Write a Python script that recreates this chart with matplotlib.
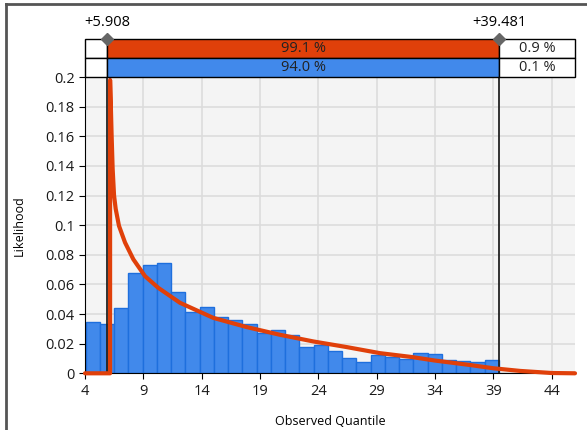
import numpy as np
import matplotlib
matplotlib.use('Agg')
from matplotlib import pyplot as plt
from matplotlib.lines import Line2D

plt.rcParams['font.family'] = ['Open Sans', 'DejaVu Sans']

## histogram (29 equal bins)
bin_lo, bin_hi = 4.05, 39.481
hist_heights = [0.0346, 0.033, 0.0444, 0.068, 0.0729, 0.0745, 0.055, 0.0414, 0.0446,
                0.038, 0.0357, 0.033, 0.0272, 0.0292, 0.0258, 0.0179, 0.019, 0.0151,
                0.0104, 0.0077, 0.0122, 0.0109, 0.0095, 0.0136, 0.0127, 0.009, 0.0081,
                0.0077, 0.0088]

## fitted density
curve_x = [4.0, 6.15, 6.15, 6.2, 6.28, 6.37, 6.49, 6.63, 6.91, 7.43, 8.14, 9.14, 10.28,
           12.14, 15.0, 17.86, 20.71, 23.57, 26.43, 29.28, 32.0, 34.0, 37.0, 39.0,
           41.3, 44.0, 46.0]
curve_y = [0.0, 0.0, 0.198, 0.185, 0.161, 0.138, 0.12, 0.111, 0.0996, 0.0883, 0.077,
           0.0656, 0.0577, 0.0476, 0.0374, 0.0312, 0.026, 0.0215, 0.0177, 0.0136,
           0.0110, 0.0086, 0.0056, 0.0034, 0.0016, 0.0002, 0.0]

## split markers and band percentages
split_lo, split_hi = 5.908, 39.481
red_pct = ['', '99.1 %', '0.9 %']
blue_pct = ['', '94.0 %', '0.1 %']

x_ticks = [4, 9, 14, 19, 24, 29, 34, 39, 44]
y_ticks = [0, 0.02, 0.04, 0.06, 0.08, 0.1, 0.12, 0.14, 0.16, 0.18, 0.2]
y_labels = ['0', '0.02', '0.04', '0.06', '0.08', '0.1', '0.12', '0.14', '0.16', '0.18', '0.2']

red = '#E0400A'
blue = '#4189EB'
W, H = 587, 430

fig = plt.figure(figsize=(W / 100, H / 100), dpi=100)
L, R, T, B = 85, 575, 77, 373.3
ax = fig.add_axes([L / W, 1 - B / H, (R - L) / W, (B - T) / H])
band = fig.add_axes([L / W, 1 - T / H, (R - L) / W, (T - 39) / H])

ax.set_facecolor('#F4F4F4')
ax.set_xlim(4, 46)
ax.set_ylim(0, 0.2)
ax.grid(True, color='#DCDCDC', lw=1.2, zorder=0)
ax.set_axisbelow(True)

edges = np.linspace(bin_lo, bin_hi, len(hist_heights) + 1)
ax.bar(edges[:-1], hist_heights, width=np.diff(edges), align='edge',
       color=blue, edgecolor='#1E6FDD', lw=1, zorder=2)

ax.axvline(split_lo, color='#222222', lw=1.3, zorder=3)
ax.axvline(split_hi, color='#222222', lw=1.3, zorder=3)
ax.plot(curve_x, curve_y, color=red, lw=3, zorder=4, clip_on=False,
        solid_joinstyle='round', solid_capstyle='round')

for s in ['top', 'right']:
    ax.spines[s].set_visible(False)
ax.spines['left'].set_color('black')
ax.spines['bottom'].set_color('black')
ax.set_xticks(x_ticks)
ax.set_yticks(y_ticks)
ax.set_yticklabels(y_labels)
ax.tick_params(direction='out', length=4, color='black', labelsize=10.5,
               labelcolor='#1a1a1a')
ax.set_xlabel('Observed Quantile', fontsize=9, labelpad=12)
ax.set_ylabel('Likelihood', fontsize=9, labelpad=14)

## the band above the plot
band.set_xlim(4, 46)
band.set_ylim(0, 2)
band.axis('off')
segs = [(4, split_lo), (split_lo, split_hi), (split_hi, 46)]
for row, col, pcts in [(1, red, red_pct), (0, blue, blue_pct)]:
    for i, (a, b) in enumerate(segs):
        fc = col if i == 1 else 'white'
        band.barh(row, b - a, left=a, height=1, align='edge', color=fc,
                  edgecolor='black', lw=1, clip_on=False)
        if pcts[i]:
            band.text((a + b) / 2, row + 0.5, pcts[i], ha='center', va='center',
                      fontsize=10.5, color='#222222')
band.plot([split_lo, split_hi], [2, 2], ls='none', marker='D', ms=6,
          color='#666666', clip_on=False, zorder=5)
band.text(split_lo, 2.85, '+' + str(split_lo), ha='center', va='center', fontsize=10.5)
band.text(split_hi, 2.85, '+' + str(split_hi), ha='center', va='center', fontsize=10.5)

## outer frame (left and top)
fig.add_artist(Line2D([5.5 / W, 5.5 / W], [0, 1 - 4 / H], color='#555555', lw=2))
fig.add_artist(Line2D([5.5 / W, 1], [1 - 4 / H, 1 - 4 / H], color='#555555', lw=2))

fig.savefig('out.png', dpi=100)
